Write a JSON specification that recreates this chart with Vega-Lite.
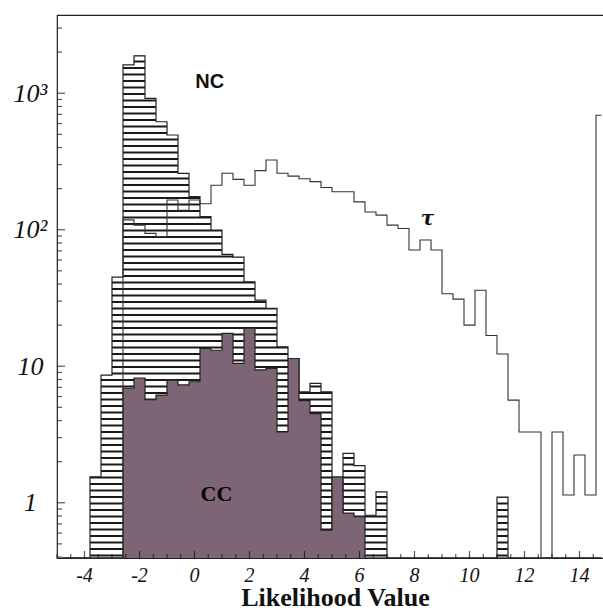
{
  "$schema": "https://vega.github.io/schema/vega-lite/v6.json",
  "width": 550,
  "height": 543,
  "autosize": {"type": "none"},
  "padding": {"left": 57, "top": 15, "right": 0, "bottom": 53},
  "background": "white",
  "config": {
    "view": {"stroke": "#222", "strokeWidth": 1.2},
    "axis": {"grid": false, "domain": false, "labelColor": "#111", "labelOverlap": false, "labelFlush": false}
  },
  "datasets": {
    "bins": [
      {"c": -4.8, "nc": null, "cc": null, "tau": null},
      {"c": -4.4, "nc": null, "cc": null, "tau": null},
      {"c": -4.0, "nc": null, "cc": null, "tau": null},
      {"c": -3.6, "nc": 1.55, "cc": null, "tau": null},
      {"c": -3.2, "nc": 8.6, "cc": null, "tau": null},
      {"c": -2.8, "nc": 45, "cc": null, "tau": null},
      {"c": -2.4, "nc": 1610, "cc": 6.9, "tau": 118},
      {"c": -2.0, "nc": 1880, "cc": 8.2, "tau": 108},
      {"c": -1.6, "nc": 918, "cc": 5.7, "tau": 94},
      {"c": -1.2, "nc": 618, "cc": 6.15, "tau": 89},
      {"c": -0.8, "nc": 494, "cc": 7.9, "tau": 165},
      {"c": -0.4, "nc": 259, "cc": 7.3, "tau": 139},
      {"c": 0.0, "nc": 175, "cc": 7.7, "tau": 165},
      {"c": 0.4, "nc": 125, "cc": 13.5, "tau": 155},
      {"c": 0.8, "nc": 99.5, "cc": 13.1, "tau": 212},
      {"c": 1.2, "nc": 66, "cc": 17.4, "tau": 259},
      {"c": 1.6, "nc": 63, "cc": 10.5, "tau": 234},
      {"c": 2.0, "nc": 41.6, "cc": 19.0, "tau": 212},
      {"c": 2.4, "nc": 30.5, "cc": 9.4, "tau": 271},
      {"c": 2.8, "nc": 26.5, "cc": 9.65, "tau": 324},
      {"c": 3.2, "nc": 13.9, "cc": 3.3, "tau": 259},
      {"c": 3.6, "nc": 11.4, "cc": 11.4, "tau": 247},
      {"c": 4.0, "nc": 6.5, "cc": 5.6, "tau": 236},
      {"c": 4.4, "nc": 7.5, "cc": 4.5, "tau": 225},
      {"c": 4.8, "nc": 6.5, "cc": 0.63, "tau": 204},
      {"c": 5.2, "nc": 0.63, "cc": 1.55, "tau": 190},
      {"c": 5.6, "nc": 2.3, "cc": 0.84, "tau": 190},
      {"c": 6.0, "nc": 1.87, "cc": 0.79, "tau": 160},
      {"c": 6.4, "nc": 0.81, "cc": null, "tau": 135},
      {"c": 6.8, "nc": 1.2, "cc": null, "tau": 128},
      {"c": 7.2, "nc": null, "cc": null, "tau": 108},
      {"c": 7.6, "nc": null, "cc": null, "tau": 102},
      {"c": 8.0, "nc": null, "cc": null, "tau": 71},
      {"c": 8.4, "nc": null, "cc": null, "tau": 84},
      {"c": 8.8, "nc": null, "cc": null, "tau": 71},
      {"c": 9.2, "nc": null, "cc": null, "tau": 34},
      {"c": 9.6, "nc": null, "cc": null, "tau": 31},
      {"c": 10.0, "nc": null, "cc": null, "tau": 20},
      {"c": 10.4, "nc": null, "cc": null, "tau": 36},
      {"c": 10.8, "nc": null, "cc": null, "tau": 16.8},
      {"c": 11.2, "nc": 1.1, "cc": null, "tau": 12.3},
      {"c": 11.6, "nc": null, "cc": null, "tau": 5.65},
      {"c": 12.0, "nc": null, "cc": null, "tau": 3.3},
      {"c": 12.4, "nc": null, "cc": null, "tau": 3.3},
      {"c": 12.8, "nc": null, "cc": null, "tau": null},
      {"c": 13.2, "nc": null, "cc": null, "tau": 3.3},
      {"c": 13.6, "nc": null, "cc": null, "tau": 1.14},
      {"c": 14.0, "nc": null, "cc": null, "tau": 2.24},
      {"c": 14.4, "nc": null, "cc": null, "tau": 1.14},
      {"c": 14.8, "nc": null, "cc": null, "tau": 690}
    ],
    "xticks": [
      {"v": -5}, {"v": -4.5}, {"v": -4, "t": "-4"}, {"v": -3.5}, {"v": -3}, {"v": -2.5}, {"v": -2, "t": "-2"}, {"v": -1.5}, {"v": -1}, {"v": -0.5},
      {"v": 0, "t": "0"}, {"v": 0.5}, {"v": 1}, {"v": 1.5}, {"v": 2, "t": "2"}, {"v": 2.5}, {"v": 3}, {"v": 3.5}, {"v": 4, "t": "4"}, {"v": 4.5},
      {"v": 5}, {"v": 5.5}, {"v": 6, "t": "6"}, {"v": 6.5}, {"v": 7}, {"v": 7.5}, {"v": 8, "t": "8"}, {"v": 8.5}, {"v": 9}, {"v": 9.5},
      {"v": 10, "t": "10"}, {"v": 10.5}, {"v": 11}, {"v": 11.5}, {"v": 12, "t": "12"}, {"v": 12.5}, {"v": 13}, {"v": 13.5}, {"v": 14, "t": "14"}, {"v": 14.5}, {"v": 15}
    ],
    "yticks": [
      {"v": 0.4}, {"v": 0.5}, {"v": 0.6}, {"v": 0.7}, {"v": 0.8}, {"v": 0.9},
      {"v": 1, "major": true}, {"v": 2}, {"v": 3}, {"v": 4}, {"v": 5}, {"v": 6}, {"v": 7}, {"v": 8}, {"v": 9},
      {"v": 10, "major": true}, {"v": 20}, {"v": 30}, {"v": 40}, {"v": 50}, {"v": 60}, {"v": 70}, {"v": 80}, {"v": 90},
      {"v": 100, "major": true}, {"v": 200}, {"v": 300}, {"v": 400}, {"v": 500}, {"v": 600}, {"v": 700}, {"v": 800}, {"v": 900},
      {"v": 1000, "major": true}, {"v": 2000}, {"v": 3000}
    ]
  },
  "data": {"name": "bins"},
  "layer": [
    {
      "transform": [{"filter": "isValid(datum.nc)"}],
      "mark": {"type": "rule", "strokeWidth": 11, "strokeDash": [2, 4.5], "strokeDashOffset": {"expr": "scale('y', datum.nc)"}, "strokeCap": "butt", "color": "#1a1a1a"},
      "encoding": {
        "x": {"field": "c", "type": "quantitative"},
        "y": {"field": "nc", "type": "quantitative"},
        "y2": {"value": "height"}
      }
    },
    {
      "mark": {"type": "line", "interpolate": "step", "invalid": "show", "color": "#222", "strokeWidth": 1.2},
      "encoding": {
        "x": {"field": "c", "type": "quantitative"},
        "y": {"field": "nc", "type": "quantitative"}
      }
    },
    {
      "transform": [{"filter": "isValid(datum.cc)"}],
      "mark": {"type": "rule", "strokeWidth": 11, "strokeCap": "butt", "color": "#7d6575"},
      "encoding": {
        "x": {"field": "c", "type": "quantitative"},
        "y": {"field": "cc", "type": "quantitative"},
        "y2": {"value": "height"}
      }
    },
    {
      "mark": {"type": "line", "interpolate": "step", "invalid": "show", "color": "#222", "strokeWidth": 1.2},
      "encoding": {
        "x": {"field": "c", "type": "quantitative"},
        "y": {"field": "cc", "type": "quantitative"}
      }
    },
    {
      "mark": {"type": "line", "interpolate": "step", "invalid": "show", "color": "#333", "strokeWidth": 1.1},
      "encoding": {
        "x": {
          "field": "c",
          "type": "quantitative",
          "scale": {"domain": [-5, 15], "nice": false, "zero": false},
          "axis": {
            "labels": false,
            "ticks": false,
            "title": "Likelihood Value",
            "titleFont": "Liberation Serif",
            "titleFontWeight": "bold",
            "titleFontSize": 26,
            "titleColor": "#111",
            "titleX": 278,
            "titleY": 47,
            "titleBaseline": "alphabetic"
          }
        },
        "y": {
          "field": "tau",
          "type": "quantitative",
          "scale": {"type": "log", "domain": [0.394, 3740], "nice": false},
          "axis": {
            "values": [1, 10, 100, 1000],
            "labelExpr": "datum.value === 1000 ? '10³' : datum.value === 100 ? '10²' : datum.value === 10 ? '10' : '1'",
            "ticks": false,
            "labelFont": "Liberation Serif",
            "labelFontStyle": "italic",
            "labelFontSize": 26,
            "labelAlign": "center",
            "labelBaseline": "middle",
            "labelPadding": 27,
            "title": null
          }
        }
      }
    },
    {
      "data": {"name": "xticks"},
      "transform": [{"filter": "isValid(datum.t)"}],
      "mark": {"type": "tick", "orient": "vertical", "color": "#111", "thickness": 1.2, "yOffset": -3.5},
      "encoding": {
        "x": {"field": "v", "type": "quantitative"},
        "y": {"datum": 0.394, "type": "quantitative"},
        "size": {"value": 7}
      }
    },
    {
      "data": {"name": "xticks"},
      "transform": [{"filter": "!isValid(datum.t)"}],
      "mark": {"type": "tick", "orient": "vertical", "color": "#111", "thickness": 1.2, "yOffset": -2},
      "encoding": {
        "x": {"field": "v", "type": "quantitative"},
        "y": {"datum": 0.394, "type": "quantitative"},
        "size": {"value": 4}
      }
    },
    {
      "data": {"name": "xticks"},
      "transform": [{"filter": "isValid(datum.t)"}],
      "mark": {"type": "text", "font": "Liberation Serif", "fontStyle": "italic", "fontSize": 20, "color": "#111", "align": "center", "baseline": "alphabetic", "dy": 24},
      "encoding": {
        "x": {"field": "v", "type": "quantitative"},
        "y": {"datum": 0.394, "type": "quantitative"},
        "text": {"field": "t", "type": "nominal"}
      }
    },
    {
      "data": {"name": "yticks"},
      "transform": [{"filter": "datum.major === true"}],
      "mark": {"type": "tick", "orient": "horizontal", "color": "#111", "thickness": 1.2, "xOffset": 4},
      "encoding": {
        "x": {"datum": -5, "type": "quantitative"},
        "y": {"field": "v", "type": "quantitative"},
        "size": {"value": 8}
      }
    },
    {
      "data": {"name": "yticks"},
      "transform": [{"filter": "datum.major !== true"}],
      "mark": {"type": "tick", "orient": "horizontal", "color": "#111", "thickness": 1.2, "xOffset": 2.5},
      "encoding": {
        "x": {"datum": -5, "type": "quantitative"},
        "y": {"field": "v", "type": "quantitative"},
        "size": {"value": 5}
      }
    },
    {
      "data": {"values": [{"label": "NC"}]},
      "mark": {"type": "text", "font": "Liberation Sans", "fontWeight": "bold", "fontSize": 20, "color": "#111", "align": "center", "baseline": "middle"},
      "encoding": {
        "x": {"datum": 0.55, "type": "quantitative"},
        "y": {"datum": 1208, "type": "quantitative"},
        "text": {"field": "label", "type": "nominal"}
      }
    },
    {
      "data": {"values": [{"label": "τ"}]},
      "mark": {"type": "text", "font": "DejaVu Serif", "fontWeight": "bold", "fontStyle": "italic", "fontSize": 20, "color": "#111", "align": "center", "baseline": "middle"},
      "encoding": {
        "x": {"datum": 8.47, "type": "quantitative"},
        "y": {"datum": 120, "type": "quantitative"},
        "text": {"field": "label", "type": "nominal"}
      }
    },
    {
      "data": {"values": [{"label": "CC"}]},
      "mark": {"type": "text", "font": "Liberation Serif", "fontWeight": "bold", "fontSize": 22, "color": "#000", "align": "center", "baseline": "middle"},
      "encoding": {
        "x": {"datum": 0.8, "type": "quantitative"},
        "y": {"datum": 1.16, "type": "quantitative"},
        "text": {"field": "label", "type": "nominal"}
      }
    }
  ]
}
